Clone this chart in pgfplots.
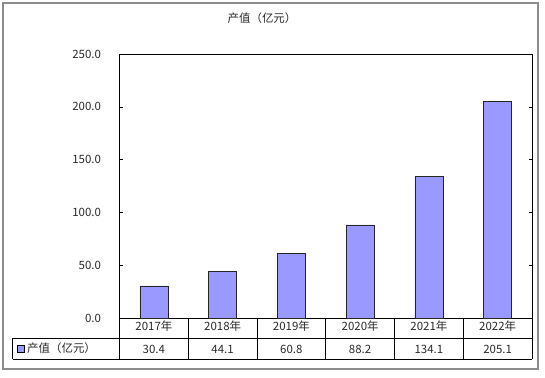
\documentclass[border=0pt]{standalone}
\usepackage{fontspec}
\setmainfont{Noto Sans CJK SC}
\usepackage{pgfplots}
\pgfplotsset{compat=1.18}
\definecolor{barblue}{HTML}{9999FF}
\definecolor{framegray}{HTML}{8C8C8C}
\definecolor{txt}{HTML}{2A2A2A}
\begin{document}
\begin{tikzpicture}[x=1bp,y=1bp,font=\fontsize{11.5}{13}\selectfont]
\useasboundingbox (0,0) rectangle (545,377);
\draw[framegray, line width=1.2bp] (3,8) rectangle (538,374);
\node[txt] at (262,359) {产值（亿元）};
\begin{axis}[
  at={(119.5bp,59bp)}, anchor=south west,
  scale only axis, width=412.5bp, height=264bp,
  ymin=0, ymax=250, xmin=-0.5, xmax=5.5,
  ytick={0,50,...,250},
  xtick={0,...,5},
  xticklabels={2017年,2018年,2019年,2020年,2021年,2022年},
  x tick style={draw=none},
  y tick style={black, line width=0.6bp},
  tick align=inside,
  major tick length=3bp,
  axis line style={black, line width=0.7bp},
  clip=false,
  /pgf/number format/assume math mode=true,
  yticklabel={\pgfmathprintnumber[fixed,fixed zerofill,precision=1]{\tick}},
  yticklabel style={txt, xshift=-15bp},
  xticklabel style={txt, anchor=center, yshift=-8bp},
]
\addplot[ybar, bar width=28bp, fill=barblue, draw=black!85, line width=0.6bp]
  coordinates {(0,30.4) (1,44.1) (2,60.8) (3,88.2) (4,134.1) (5,205.1)};
\addplot[draw=none, mark=none, point meta=explicit,
  nodes near coords={\pgfmathprintnumber[fixed,fixed zerofill,precision=1,assume math mode=true]{\pgfplotspointmeta}},
  nodes near coords style={anchor=center, txt}]
  coordinates {(0,-29.4) [30.4] (1,-29.4) [44.1] (2,-29.4) [60.8] (3,-29.4) [88.2] (4,-29.4) [134.1] (5,-29.4) [205.1]};
\end{axis}
% data table grid
\draw[black, line width=0.7bp] (12.7,39) -- (532,39);
\draw[black, line width=0.7bp] (12.7,18) -- (532,18);
\draw[black, line width=0.7bp] (12.7,39) -- (12.7,18);
\foreach \k in {0,...,6} {
  \draw[black, line width=0.7bp] ({119.5+\k*68.75},59) -- ({119.5+\k*68.75},18);
}
\fill[barblue, draw=black, line width=0.5bp] (17,24.5) rectangle (24,31.5);
\node[txt, anchor=west, inner sep=0pt] at (27,28.5) {产值（亿元）};
\end{tikzpicture}
\end{document}
